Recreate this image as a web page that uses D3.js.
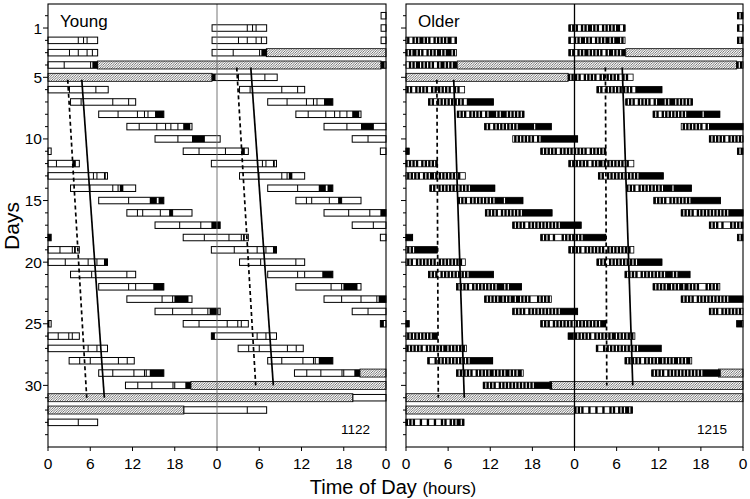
<!DOCTYPE html>
<html><head><meta charset="utf-8">
<script src="https://cdn.jsdelivr.net/npm/d3@7"></script>
<style>body{margin:0;background:#fff} svg text{font-family:"Liberation Sans",Arial,Helvetica,sans-serif;fill:#000}</style>
</head><body><svg id="c" width="750" height="499"></svg>
<script>
// ---------- DATA ----------
const xTicks = [0, 6, 12, 18, 24, 30, 36, 42, 48];
const xTickLabels = ["0", "6", "12", "18", "0", "6", "12", "18", "0"];
const dayTicks = [1, 5, 10, 15, 20, 25, 30];

// Sleep episodes: day of onset, onset hour, hypnogram in 15-min epochs
// ('-' = sleep, '|' = sleep with stage boundary, '#' = dark epoch)
const youngDays = [1,2,3,5,7,8,9,10,11,12,14,15,16,17,18,19,21,22,23,24,25,26,28,29,30,32];
const youngStarts = [23.3,23.3,23.3,23.3,3.2,7.2,11.2,15.2,19.2,23.2,3.2,7.2,11.2,15.2,19.2,23.2,3.2,7.2,11.2,15.2,19.2,23.2,3.0,7.2,11.0,19.3];
const youngHyp = [
  "--------------------|--|-|-----",
  "---------------|----|----|--|--",
  "------------|--------------|###",
  "##-------------|--------------|------",
  "------|-----------------|--------|---",
  "-----------|----------|---|-|---#####",
  "-------|---------|----|--|---|--####-",
  "-------------|-------#######|--------",
  "---------|--------------|--------##--",
  "-----------------------------|-|---#-",
  "-----------|------------|--|##-------",
  "-----------------|-----------####-###",
  "------|--|---------|----##|----------",
  "--------------|-----------|-----#####",
  "------------|-------------|------|#--",
  "-------------|------------|----|---##",
  "------------|-------------------|----",
  "-----------------|---|---------######",
  "--------------------|-----|########--",
  "----------|----------|--------|#####-",
  "---------|---------------|-----|-|---",
  "##------------------------|----|-----",
  "------|-----|---------------|----|---",
  "--------|-----------|-----||-########",
  "-------|-------|-----------||-----###",
  "------------------------------------|----------"
];
// constant-routine (hatched) episodes: [day, start hour, end hour]
const youngCR = [[4, 7.0, 47.3], [30, 20.3, 67.3]];
const youngDashed = [[5.2, 2.8], [31, 5.5]];
const youngSolid = [[5.2, 4.8], [31, 8.0]];

const olderDays = [1,2,3,5,7,8,9,10,11,12,14,15,16,17,18,19,21,22,23,24,25,26,28,29,30,33];
const olderStarts = [23.2,23.2,23.2,23.1,3.2,7.3,11.2,15.2,19.2,23.2,3.4,7.4,11.3,15.2,19.2,23.2,3.2,7.2,11.2,15.2,19.2,23.1,3.1,7.2,11.0,0.0];
const olderHyp = [
  "#-#-#--#-#-##-#-#--#-#-#-#-##--#",
  "#--#-#-##-#-#--#-#-#-##-#-###-#-",
  "#-#--#-#-##-#-#-#-#--#-##-#-#-##",
  "#-#-#-#--#-#-#-#--#-#-#-#-#-#--#-#---",
  "#-#--#-#-#-#-#-#-#-#--###############",
  "#-#-#--#-#-#-#--#-####-#-###-#-#-#-#-#",
  "#-#--#-#-#-#-#-#-#-#########-#########",
  "-#-#-#-#-#-#--#-#####################",
  "#-#-#-#-#--#-#-#-#-#-#-#-#--#-#-#-#-#",
  "#-#-#-#-#-#--#-#-##-#-#-#-#-#-#--#---",
  "#-#--#-#-#-#-#-#-#-#-#-##############",
  "#-#-#--#-#-#-#-#-#-#-#####-##########",
  "#-#-#-#--#-#-#-#-#-#-#################",
  "#-#-#-#--#-#-#-#-#-#-#-#-#-############",
  "#-#-#--#----#-#-#-#-#-#-#############",
  "#-#-#-#--#-#-#-#-#-#--#-#-#-#-#-#-#--",
  "#-#-#--#-#-#-#-#-#-#-#-##############",
  "#-#-#-#--#-#-#-#-#-#-#-####-#-#######",
  "#-#-#-#-##-#-#-##-##-#-#-#----#-#-#-#-",
  "#-#-#-#--#-#-#-#-#-#-#-#-#-##########",
  "#-#-#--#-#-#-#-#-#--#-#-#-#-#-#-#-###",
  "###-#-#-#-#-#--#-#-#-#-#-##-#-#-#-#-#-",
  "#---#-#-#-#-#-#-#-#-#-#-#############",
  "#-#-#-#-#--#-#-#-#-##-#-#-#-##-#-#-##-",
  "#-#-#-#--#-#-#-#-#-#-#-#-#-#-##########",
  "#-#-#---#---#---#---#-#--#-#-##-#"
];
const olderCR = [[4, 7.3, 47.1], [30, 20.5, 72.0]];
const olderDashed = [[5.2, 4.4], [31, 4.6]];
const olderSolid = [[5.2, 6.8], [31, 8.3]];

// ---------- DRAWING ----------
const svg = d3.select("#c");
const defs = svg.append("defs");
const pat = defs.append("pattern").attr("id", "hatch")
  .attr("patternUnits", "userSpaceOnUse").attr("width", 2.4).attr("height", 2.4);
pat.append("rect").attr("width", 2.4).attr("height", 2.4).attr("fill", "#fff");
pat.append("path").attr("d", "M-0.6,0.6 L0.6,-0.6 M0,2.4 L2.4,0 M1.8,3 L3,1.8")
  .attr("stroke", "#333").attr("stroke-width", 0.7);

const yTop = 4, yBot = 447;
const y = d3.scaleLinear().domain([-0.95, 35]).range([yTop, yBot]);
const EP = 0.25;

function occurrences(day, s, e) {
  const out = [];
  for (let r = day - 3; r <= day + 3; r++) {
    if (r < 0 || r > 34) continue;
    const off = (day - r) * 24;
    const lo = Math.max(0, s + off), hi = Math.min(48, e + off);
    if (hi > lo) out.push({ r, off, lo, hi });
  }
  return out;
}

function drawPanel(p) {
  const x = d3.scaleLinear().domain([0, 48]).range(p.range);
  const g = svg.append("g");
  const bh = p.barH;

  // hatched constant routine bands
  p.cr.forEach(([d, s, e]) => {
    occurrences(d, s, e).forEach(o => {
      g.append("rect").attr("x", x(o.lo)).attr("y", y(o.r) - 4)
        .attr("width", x(o.hi) - x(o.lo)).attr("height", 8)
        .attr("fill", "url(#hatch)").attr("stroke", "#000").attr("stroke-width", 0.8);
    });
  });

  // sleep episodes
  p.days.forEach((d, i) => {
    const s = p.starts[i], hyp = p.hyp[i], e = s + hyp.length * EP;
    occurrences(d, s, e).forEach(o => {
      const yc = y(o.r);
      const bg = g.append("g");
      bg.append("rect").attr("x", x(o.lo)).attr("y", yc - bh / 2)
        .attr("width", x(o.hi) - x(o.lo)).attr("height", bh).attr("fill", "#fff");
      // black runs
      let k = 0;
      while (k < hyp.length) {
        if (hyp[k] === "#") {
          let k2 = k; while (k2 < hyp.length && hyp[k2] === "#") k2++;
          const t0 = Math.max(o.lo, s + o.off + k * EP), t1 = Math.min(o.hi, s + o.off + k2 * EP);
          if (t1 > t0) bg.append("rect").attr("x", x(t0) - p.grow / 2).attr("y", yc - bh / 2)
            .attr("width", x(t1) - x(t0) + p.grow).attr("height", bh).attr("fill", "#000");
          k = k2;
        } else {
          if (hyp[k] === "|") {
            const t = s + o.off + k * EP;
            if (t > o.lo && t < o.hi) bg.append("line").attr("x1", x(t)).attr("x2", x(t))
              .attr("y1", yc - bh / 2).attr("y2", yc + bh / 2)
              .attr("stroke", "#000").attr("stroke-width", 1);
          }
          k++;
        }
      }
      bg.append("rect").attr("x", x(o.lo)).attr("y", yc - bh / 2)
        .attr("width", x(o.hi) - x(o.lo)).attr("height", bh)
        .attr("fill", "none").attr("stroke", "#000").attr("stroke-width", p.outline);
    });
  });

  // midline at 24 h
  g.append("line").attr("x1", x(24)).attr("x2", x(24)).attr("y1", yTop).attr("y2", yBot)
    .attr("stroke", p.midColor).attr("stroke-width", p.midWidth);

  // phase lines (double plotted)
  const line = d3.line().x(v => x(v[1])).y(v => y(v[0]));
  [[p.dashed, "4,3"], [p.solid, null]].forEach(([pts, dash]) => {
    [0, 1].forEach(c => {
      const pp = pts.map(v => [v[0] - c, v[1] + 24 * c]);
      const path = g.append("path").attr("d", line(pp)).attr("fill", "none")
        .attr("stroke", "#000").attr("stroke-width", 1.7);
      if (dash) path.attr("stroke-dasharray", dash);
    });
  });

  // frame
  g.append("rect").attr("x", x(0)).attr("y", yTop).attr("width", x(48) - x(0))
    .attr("height", yBot - yTop).attr("fill", "none").attr("stroke", "#000").attr("stroke-width", 1.1);

  // left ticks every day
  d3.range(0, 35).forEach(d => {
    const major = dayTicks.includes(d);
    g.append("line").attr("x1", x(0) - (major ? 5 : 3)).attr("x2", x(0))
      .attr("y1", y(d)).attr("y2", y(d)).attr("stroke", "#000").attr("stroke-width", 1);
  });
  if (p.dayLabels) {
    dayTicks.forEach(d => {
      g.append("text").attr("x", x(0) - 6).attr("y", y(d) + 5.5)
        .attr("text-anchor", "end").attr("font-size", 15.5).text(d);
    });
  }
  // bottom ticks
  xTicks.forEach((t, i) => {
    g.append("line").attr("x1", x(t)).attr("x2", x(t)).attr("y1", yBot).attr("y2", yBot + 4)
      .attr("stroke", "#000").attr("stroke-width", 1);
    g.append("text").attr("x", x(t)).attr("y", yBot + 22).attr("text-anchor", "middle")
      .attr("font-size", 15.5).text(xTickLabels[i]);
  });

  g.append("text").attr("x", x(0) + 12).attr("y", 27).attr("font-size", 17).text(p.title);
  g.append("text").attr("x", x(48) - 16).attr("y", 434).attr("text-anchor", "end")
    .attr("font-size", 13.5).text(p.id);
}

drawPanel({ range: [48, 386], days: youngDays, starts: youngStarts, hyp: youngHyp, cr: youngCR,
  dashed: youngDashed, solid: youngSolid, title: "Young", id: "1122", barH: 6.5, outline: 1,
  grow: 0, midColor: "#666", midWidth: 0.9, dayLabels: true });
drawPanel({ range: [406, 743], days: olderDays, starts: olderStarts, hyp: olderHyp, cr: olderCR,
  dashed: olderDashed, solid: olderSolid, title: "Older", id: "1215", barH: 6.5, outline: 0.8,
  grow: 0.6, midColor: "#000", midWidth: 1.3, dayLabels: false });

svg.append("text").attr("transform", "translate(19,226) rotate(-90)").attr("text-anchor", "middle")
  .attr("font-size", 21).text("Days");
const xt = svg.append("text").attr("x", 393).attr("y", 494).attr("text-anchor", "middle");
xt.append("tspan").attr("font-size", 20).text("Time of Day ");
xt.append("tspan").attr("font-size", 17).text("(hours)");
</script></body></html>
